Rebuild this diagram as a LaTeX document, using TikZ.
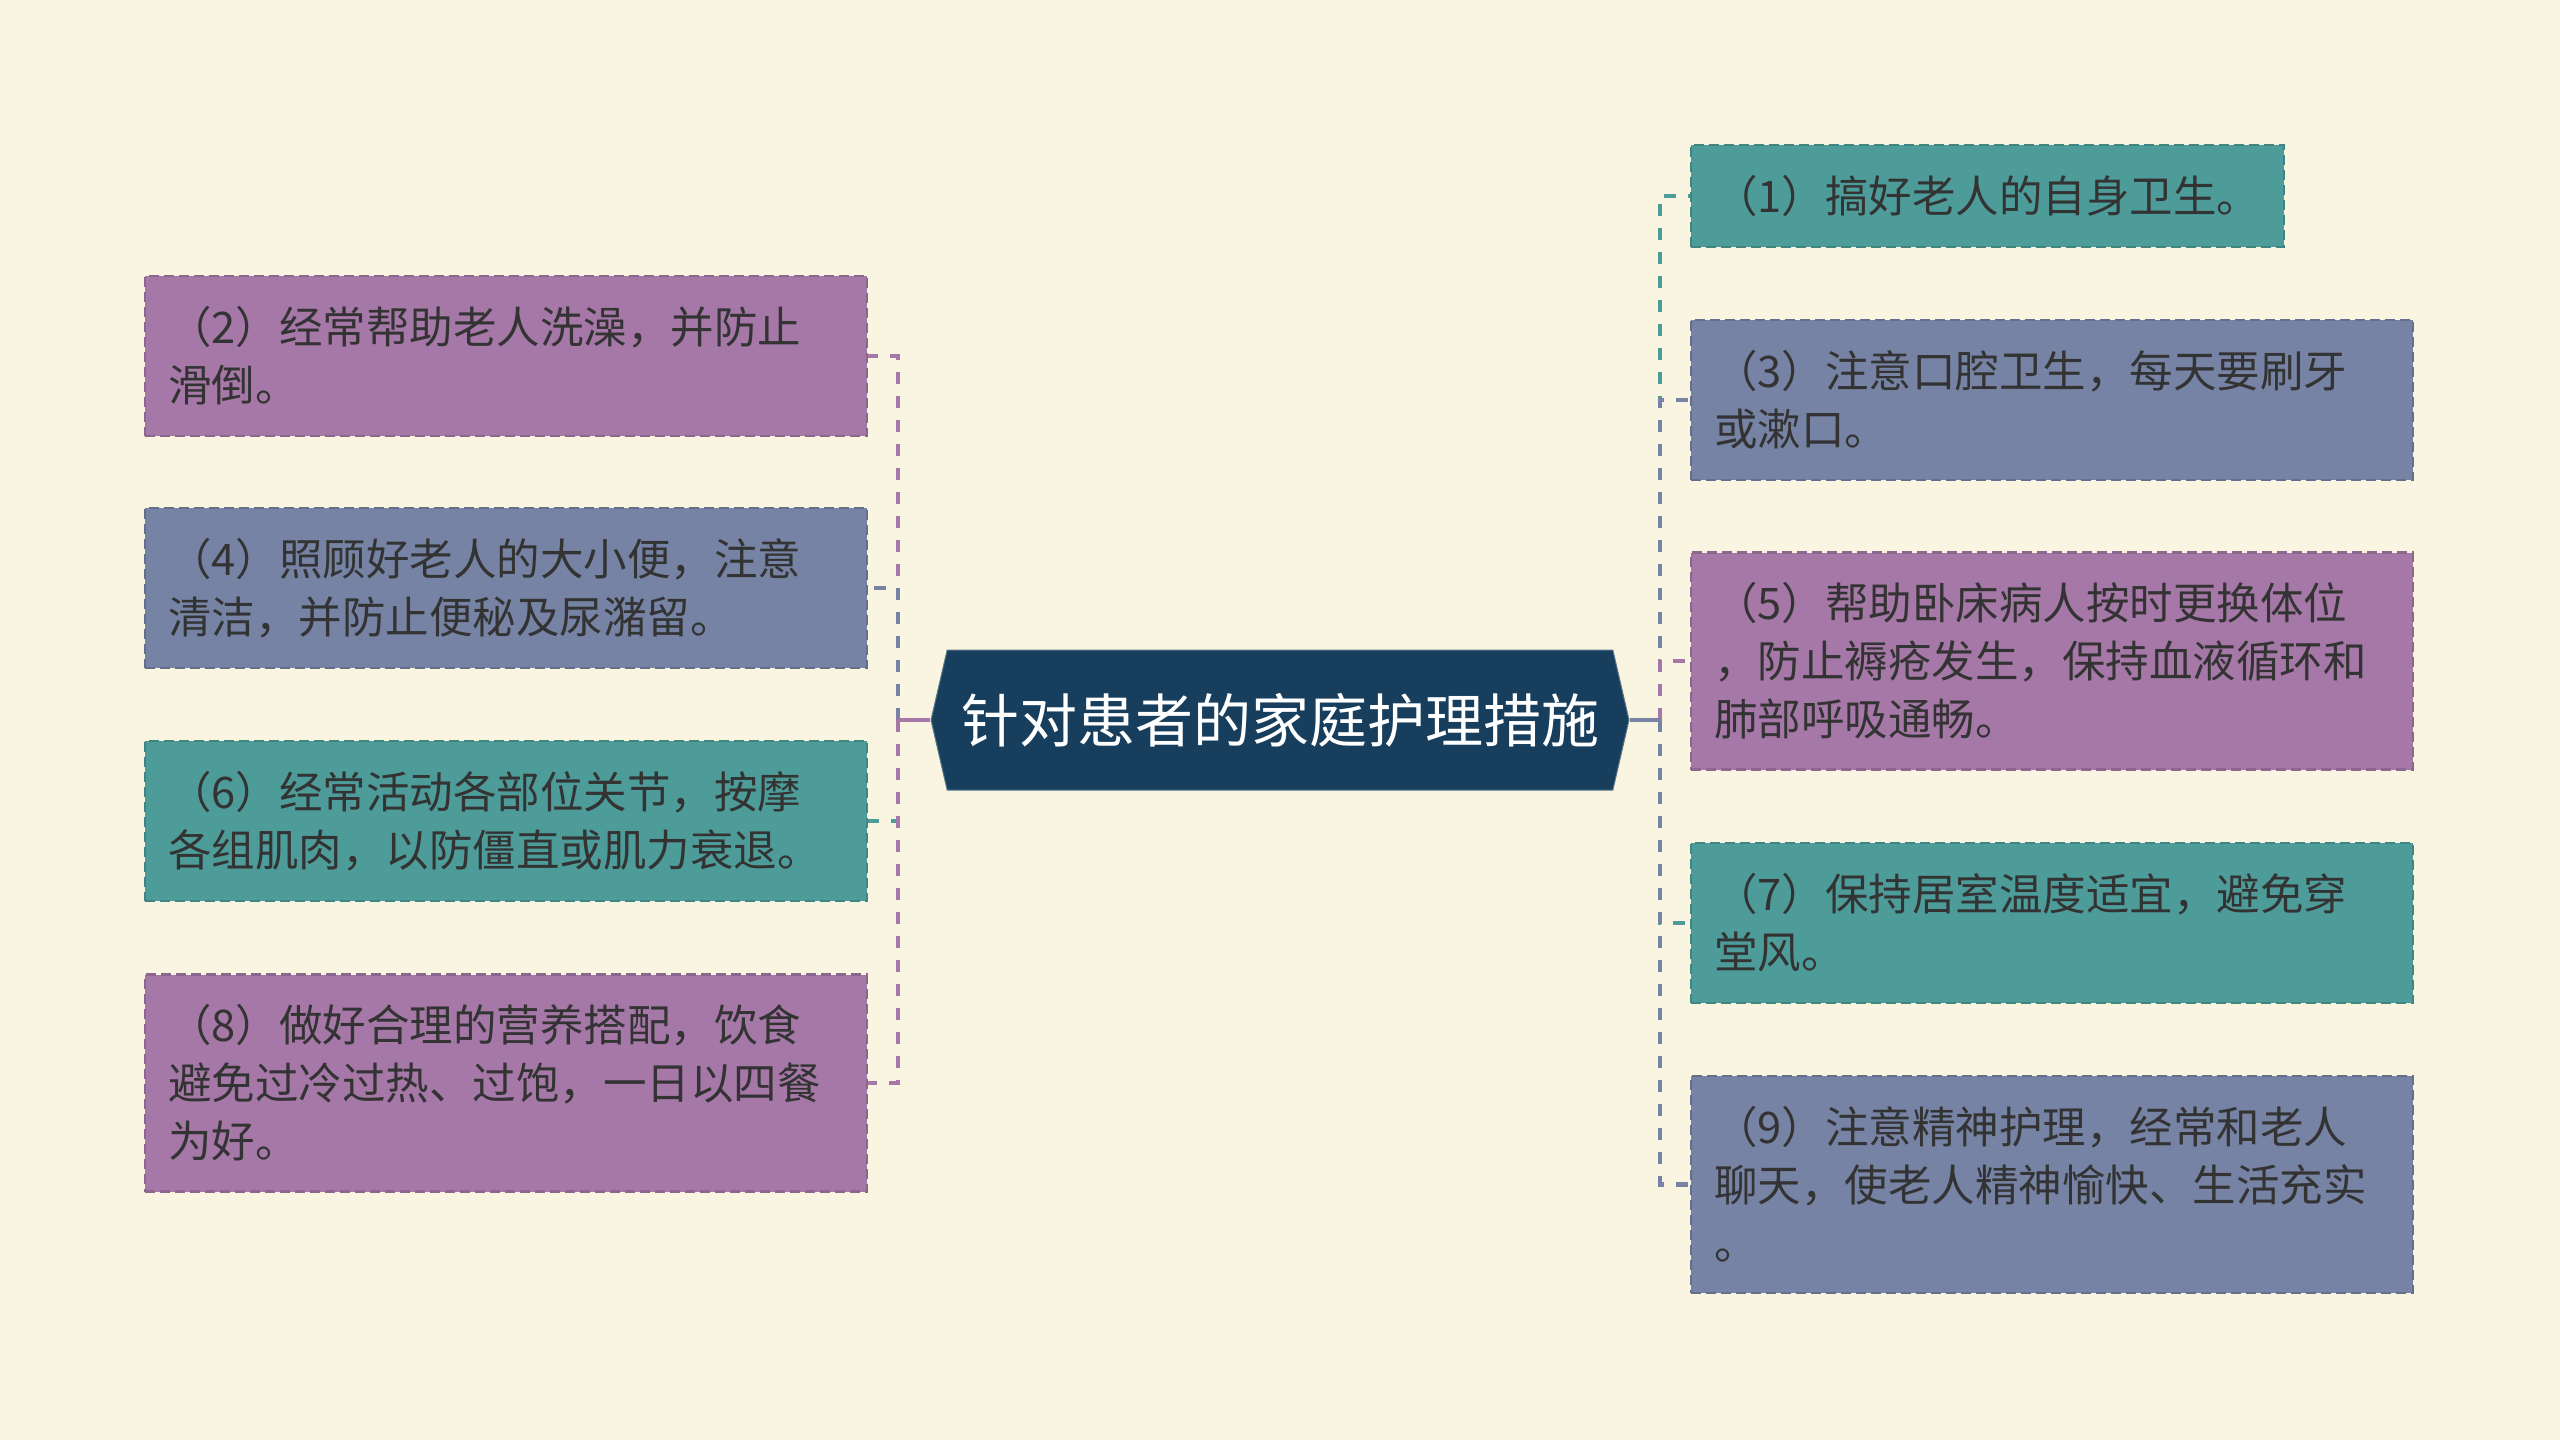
\documentclass[tikz,border=0pt]{standalone}
\usepackage{fontspec}
\setmainfont{Noto Sans CJK SC}
\usetikzlibrary{shapes.symbols}

\definecolor{bgc}{HTML}{FAF5E0}
\definecolor{hubc}{HTML}{173E5C}
\definecolor{leafpurple}{HTML}{A678A8}
\definecolor{leafslate}{HTML}{7683A4}
\definecolor{leafteal}{HTML}{4D9C9A}
\definecolor{txtc}{HTML}{333333}

\tikzset{
  hub/.style={signal, signal to=west and east, signal pointer angle=154,
    fill=hubc, draw=hubc!70!white, line width=1pt, text=white,
    font=\fontsize{58}{70}\selectfont, minimum width=698pt, minimum height=140pt, inner sep=0pt},
  leaf/.style={fill=#1, draw=#1!85!black, dash pattern=on 10pt off 5pt, line width=2.5pt,
    text=txtc, font=\fontsize{43.5}{58}\selectfont, align=left,
    inner xsep=23pt, inner ysep=0pt, text width=676pt},
  link/.style={draw=#1, line width=4.5pt, dash pattern=on 12pt off 12pt},
  stem/.style={draw=#1, line width=4.5pt},
}

\begin{document}
\begin{tikzpicture}[x=1pt,y=-1pt]
\fill[bgc] (0,0) rectangle (2560,1440);

%Depth 0
\node[hub] (hub) at (1280,720) {针对患者的家庭护理措施};
\coordinate (lj) at (898,720);
\coordinate (rj) at (1660,720);

%Depth 1, left
\node[leaf=leafpurple, minimum height=160pt] (n2) at (506,356) {（2）经常帮助老人洗澡，并防止\\滑倒。};
\node[leaf=leafslate, minimum height=160pt] (n4) at (506,588) {（4）照顾好老人的大小便，注意\\清洁，并防止便秘及尿潴留。};
\node[leaf=leafteal, minimum height=160pt] (n6) at (506,821) {（6）经常活动各部位关节，按摩\\各组肌肉，以防僵直或肌力衰退。};
\node[leaf=leafpurple, minimum height=217pt] (n8) at (506,1083) {（8）做好合理的营养搭配，饮食\\避免过冷过热、过饱，一日以四餐\\为好。};

%Depth 1, right
\node[leaf=leafteal, minimum height=102pt, text width=547pt] (n1) at (1987.5,196) {（1）搞好老人的自身卫生。};
\node[leaf=leafslate, minimum height=160pt] (n3) at (2052,400) {（3）注意口腔卫生，每天要刷牙\\或漱口。};
\node[leaf=leafpurple, minimum height=217pt] (n5) at (2052,661) {（5）帮助卧床病人按时更换体位\\，防止褥疮发生，保持血液循环和\\肺部呼吸通畅。};
\node[leaf=leafteal, minimum height=160pt] (n7) at (2052,923) {（7）保持居室温度适宜，避免穿\\堂风。};
\node[leaf=leafslate, minimum height=217pt] (n9) at (2052,1184.5) {（9）注意精神护理，经常和老人\\聊天，使老人精神愉快、生活充实\\。};

%links
\draw[link=leafpurple] (lj) |- (n2.east);
\draw[link=leafslate] (lj) |- (n4.east);
\draw[link=leafteal] (lj) |- (n6.east);
\draw[link=leafpurple] (lj) |- (n8.east);
\draw[stem=leafpurple] (hub.west) -- (lj);

\draw[link=leafteal] (rj) |- (n1.west);
\draw[link=leafslate] (rj) |- (n3.west);
\draw[link=leafpurple] (rj) |- (n5.west);
\draw[link=leafteal] (rj) |- (n7.west);
\draw[link=leafslate] (rj) |- (n9.west);
\draw[stem=leafslate] (hub.east) -- (rj);
\end{tikzpicture}
\end{document}
